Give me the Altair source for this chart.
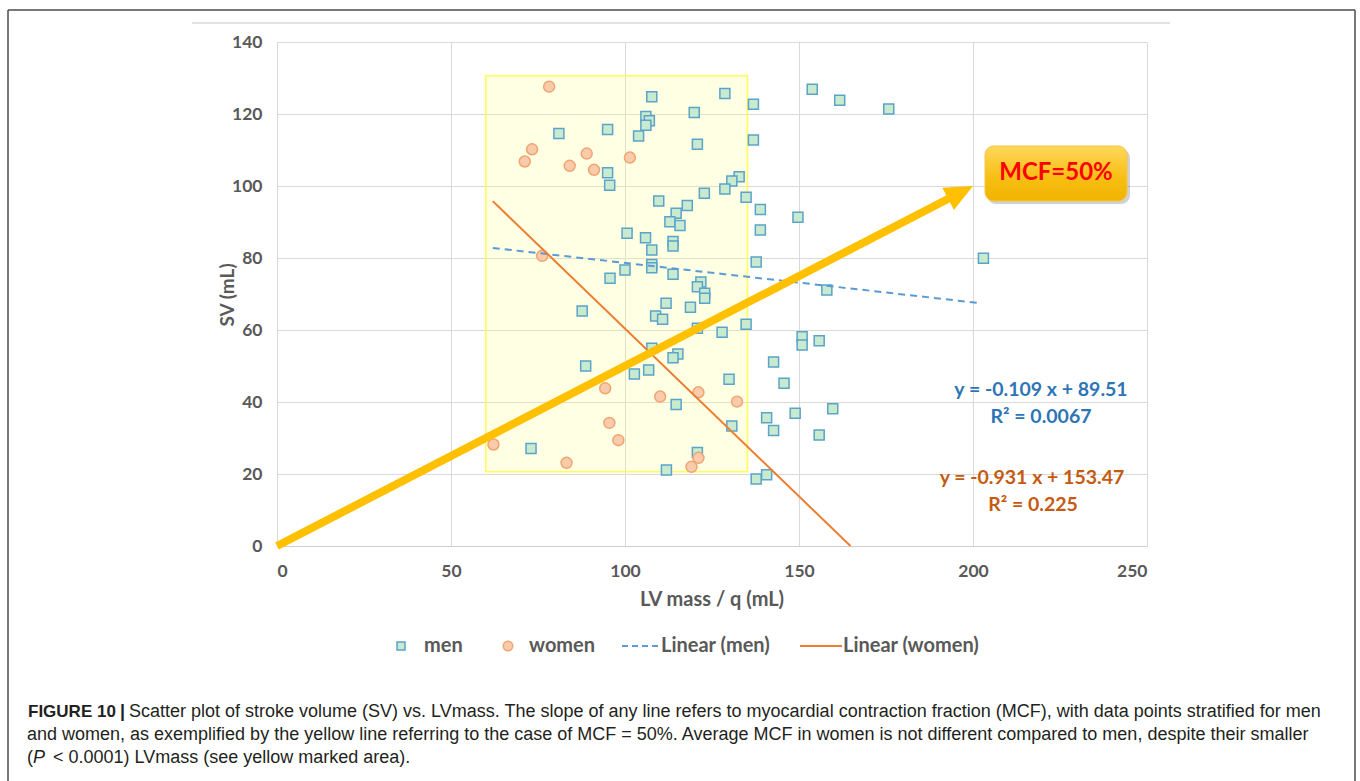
import math
import altair as alt
import pandas as pd

# ---------------- data ----------------
men_x = [81.0, 95.0, 95.0, 95.6, 100.6, 100.0, 95.7, 87.7, 88.7, 73.0,
         107.7, 128.7, 153.8, 161.7, 175.8, 136.9, 119.9, 106.0, 107.0, 106.0,
         103.9, 120.8, 136.9, 132.8, 130.7, 128.7, 122.8, 134.8, 109.7, 117.9,
         138.9, 149.7, 114.7, 112.9, 115.8, 138.9, 105.9, 113.8, 113.8, 107.7,
         137.7, 107.7, 107.7, 113.8, 158.0, 121.8, 120.8, 122.9, 122.9, 111.8,
         118.8, 108.8, 110.8, 134.8, 127.9, 120.8, 107.7, 115.2, 113.8, 106.8,
         102.7, 129.9, 150.9, 150.9, 155.8, 142.7, 145.7, 140.7, 148.9, 159.7,
         142.7, 155.8, 114.7, 130.7, 120.8, 111.9, 137.7, 140.7, 203.0]
men_y = [114.6, 115.7, 103.7, 100.2, 86.9, 76.7, 74.4, 65.3, 50.0, 27.1,
         124.8, 125.7, 126.9, 123.8, 121.4, 122.7, 120.4, 119.3, 118.1, 116.9,
         113.9, 111.6, 112.8, 102.6, 101.4, 99.2, 98.0, 96.9, 95.8, 94.6,
         93.5, 91.3, 92.4, 90.1, 89.0, 87.8, 85.6, 84.6, 83.3, 82.2,
         78.9, 78.2, 77.3, 75.5, 71.1, 73.3, 72.0, 70.2, 68.8, 67.4,
         66.3, 63.9, 63.0, 61.6, 59.4, 60.5, 54.9, 53.3, 52.3, 48.9,
         47.8, 46.3, 58.1, 55.8, 57.0, 51.1, 45.2, 35.6, 36.9, 38.1,
         32.1, 30.8, 39.3, 33.3, 26.0, 21.1, 18.6, 19.8, 79.9]

women_x = [78.2, 73.3, 71.2, 84.1, 89.0, 91.1, 101.4, 76.2, 94.3, 110.1,
           121.1, 132.2, 95.5, 98.1, 121.1, 119.1, 62.2, 83.2]
women_y = [127.6, 110.2, 106.8, 105.6, 109.0, 104.5, 107.9, 80.6, 43.8, 41.5,
           42.7, 40.1, 34.2, 29.4, 24.5, 22.0, 28.2, 23.1]

# trend-line end points (from the fitted equations shown)
men_fit_x = [62.0, 202.5]
men_fit_y = [82.8, 67.4]
women_fit_x = [62.0, 164.8]
women_fit_y = [95.8, 0.0]

# yellow marked area
area_x = [60.0, 135.2]
area_y = [20.6, 130.6]

# MCF = 50% arrow
arrow_x = [0.0, 195.0]
arrow_y = [0.0, 97.5]
arrow_tip = (200.0, 100.0)

x_ticks = [0, 50, 100, 150, 200, 250]
y_ticks = [0, 20, 40, 60, 80, 100, 120, 140]

# ---------------- layout ----------------
W, H = 870, 504
PL, PT = 277, 42
XD, YD = [0, 250], [0, 140]
FONT = "Lato"
GRAY = "#595959"


def px(v):
    return v - PL


def py(v):
    return v - PT


dummy = pd.DataFrame({"d": [0]})

axis_x = alt.Axis(values=x_ticks, title=None, labelFont=FONT, labelFontWeight="bold",
                  labelFontSize=17.5, labelColor=GRAY, grid=True, gridColor="#d9d9d9",
                  domainColor="#d0d0d0", ticks=False, tickSize=0, labelPadding=16)
axis_y = alt.Axis(values=y_ticks, title=None, labelFont=FONT, labelFontWeight="bold",
                  labelFontSize=17.5, labelColor=GRAY, grid=True, gridColor="#d9d9d9",
                  domainColor="#d9d9d9", ticks=False, tickSize=0, labelPadding=15)
X = alt.X("x:Q", scale=alt.Scale(domain=XD, nice=False, zero=False), axis=axis_x)
Y = alt.Y("y:Q", scale=alt.Scale(domain=YD, nice=False, zero=False), axis=axis_y)

area = alt.Chart(pd.DataFrame({"x": [area_x[0]], "x2": [area_x[1]],
                               "y": [area_y[0]], "y2": [area_y[1]]})).mark_rect(
    fill="#ffff80", fillOpacity=0.22, stroke="#ffff55", strokeWidth=1.5
).encode(x=X, x2="x2:Q", y=Y, y2="y2:Q")

men = alt.Chart(pd.DataFrame({"x": men_x, "y": men_y})).mark_square(
    size=100, fill="#c8ebcf", stroke="#5ba3c9", strokeWidth=1.5, opacity=1, fillOpacity=1
).encode(x=X, y=Y)

women = alt.Chart(pd.DataFrame({"x": women_x, "y": women_y})).mark_circle(
    size=120, fill="#f8cbad", stroke="#f2a46e", strokeWidth=1.5, opacity=1, fillOpacity=1
).encode(x=X, y=Y)

men_fit = alt.Chart(pd.DataFrame({"x": men_fit_x, "y": men_fit_y})).mark_line(
    color="#5b9bd5", strokeWidth=2, strokeDash=[7, 5]
).encode(x=X, y=Y)

women_fit = alt.Chart(pd.DataFrame({"x": women_fit_x, "y": women_fit_y})).mark_line(
    color="#ed7d31", strokeWidth=2
).encode(x=X, y=Y)

arrow = alt.Chart(pd.DataFrame({"x": arrow_x, "y": arrow_y})).mark_line(
    color="#ffc000", strokeWidth=8, strokeCap="butt"
).encode(x=X, y=Y)

ang = math.degrees(math.atan2((arrow_tip[1] / (YD[1] - YD[0])) * H,
                              (arrow_tip[0] / (XD[1] - XD[0])) * W))
head = alt.Chart(pd.DataFrame({"x": [arrow_tip[0]], "y": [arrow_tip[1]]})).mark_point(
    shape="M0,0L-2,-0.9L-2,0.9Z", size=784, filled=True, fill="#ffc000",
    strokeWidth=0, opacity=1, angle=360 - ang
).encode(x=X, y=Y)

# MCF box
box_shadow = alt.Chart(dummy).mark_rect(cornerRadius=9, fill="#000000", opacity=0.18).encode(
    x=alt.value(px(987)), x2=alt.value(px(1130)), y=alt.value(py(149)), y2=alt.value(py(204)))
box = alt.Chart(dummy).mark_rect(
    cornerRadius=9,
    fill=alt.Gradient(gradient="linear", x1=0, x2=0, y1=0, y2=1,
                      stops=[alt.GradientStop(color="#ffd75a", offset=0),
                             alt.GradientStop(color="#f7be12", offset=0.6),
                             alt.GradientStop(color="#f0b400", offset=1)]),
    stroke="#f5c542", strokeWidth=1
).encode(x=alt.value(px(985)), x2=alt.value(px(1127)), y=alt.value(py(146)), y2=alt.value(py(201)))
box_text = alt.Chart(dummy).mark_text(
    text="MCF=50%", font=FONT, fontSize=24, fontWeight="bold", color="#ff0000",
    align="center", baseline="middle"
).encode(x=alt.value(px(1056)), y=alt.value(py(173)))


def label(txt, x, y, color, size=19.5, weight="bold", align="center", font=FONT,
          angle=None, style=None):
    kw = dict(text=txt, font=font, fontSize=size, fontWeight=weight, color=color,
              align=align, baseline="middle")
    if angle is not None:
        kw["angle"] = angle
    if style is not None:
        kw["fontStyle"] = style
    return alt.Chart(dummy).mark_text(**kw).encode(x=alt.value(px(x)), y=alt.value(py(y)))


eqs = [
    label("y = -0.109 x + 89.51", 1041, 390, "#2e75b6"),
    label("R² = 0.0067", 1041, 417, "#2e75b6"),
    label("y = -0.931 x + 153.47", 1032, 478, "#c55a11"),
    label("R² = 0.225", 1033, 505, "#c55a11"),
]

titles = [
    label("SV (mL)", 228, 295, GRAY, size=19, angle=270),
    label("LV mass / q (mL)", 712, 600, GRAY, size=20),
]

# legend
LY = 646
leg = [
    alt.Chart(dummy).mark_square(size=64, fill="#c8ebcf", stroke="#5ba3c9", strokeWidth=1.5,
                                 opacity=1).encode(x=alt.value(px(401)), y=alt.value(py(LY))),
    label("men", 424, LY, GRAY, size=20, align="left"),
    alt.Chart(dummy).mark_circle(size=90, fill="#f8cbad", stroke="#f2a46e", strokeWidth=1.5,
                                 opacity=1).encode(x=alt.value(px(508)), y=alt.value(py(LY))),
    label("women", 529, LY, GRAY, size=20, align="left"),
    alt.Chart(dummy).mark_rule(color="#5b9bd5", strokeWidth=2, strokeDash=[6, 4]).encode(
        x=alt.value(px(622)), x2=alt.value(px(659)), y=alt.value(py(LY))),
    label("Linear (men)", 661, LY, GRAY, size=20, align="left"),
    alt.Chart(dummy).mark_rule(color="#ed7d31", strokeWidth=2).encode(
        x=alt.value(px(800)), x2=alt.value(px(842)), y=alt.value(py(LY))),
    label("Linear (women)", 843, LY, GRAY, size=20, align="left"),
]

# frames
frames = [
    alt.Chart(dummy).mark_rule(color="#d9d9d9", strokeWidth=1.5).encode(
        x=alt.value(px(192)), x2=alt.value(px(1170)), y=alt.value(py(23))),
    alt.Chart(dummy).mark_rule(color="#4d4d4d", strokeWidth=1.5).encode(
        x=alt.value(px(8)), x2=alt.value(px(1355)), y=alt.value(py(10))),
    alt.Chart(dummy).mark_rule(color="#4d4d4d", strokeWidth=1.5).encode(
        x=alt.value(px(8)), y=alt.value(py(10)), y2=alt.value(py(790))),
    alt.Chart(dummy).mark_rule(color="#4d4d4d", strokeWidth=1.5).encode(
        x=alt.value(px(1355)), y=alt.value(py(10)), y2=alt.value(py(790))),
]

CF = "Liberation Sans"
CC = "#231f20"
CS = 18
caption = [
    label("FIGURE 10", 28, 712, CC, size=17, weight="bold", align="left", font=CF),
    label("|", 120, 712, CC, size=CS, weight="bold", align="left", font=CF),
    label("Scatter plot of stroke volume (SV) vs. LVmass. The slope of any line refers to "
          "myocardial contraction fraction (MCF), with data points stratified for men",
          129, 712, CC, size=CS, weight="normal", align="left", font=CF),
    label("and women, as exemplified by the yellow line referring to the case of MCF = 50%. "
          "Average MCF in women is not different compared to men, despite their smaller",
          27, 735, CC, size=CS, weight="normal", align="left", font=CF),
    label("(", 27, 758, CC, size=CS, weight="normal", align="left", font=CF),
    label("P", 33, 758, CC, size=CS, weight="normal", align="left", font=CF, style="italic"),
    label("< 0.0001) LVmass (see yellow marked area).", 53, 758, CC, size=CS,
          weight="normal", align="left", font=CF),
]

chart = alt.layer(
    area, men, women, men_fit, women_fit, arrow, head,
    box_shadow, box, box_text, *eqs, *titles, *leg, *frames, *caption
).properties(
    width=W, height=H,
    autosize=alt.AutoSizeParams(type="none"),
    padding={"left": PL, "top": PT, "right": 1360 - PL - W, "bottom": 781 - PT - H},
).configure_view(stroke=None)

chart.save("out.html", embed_options={"renderer": "svg", "actions": False})
